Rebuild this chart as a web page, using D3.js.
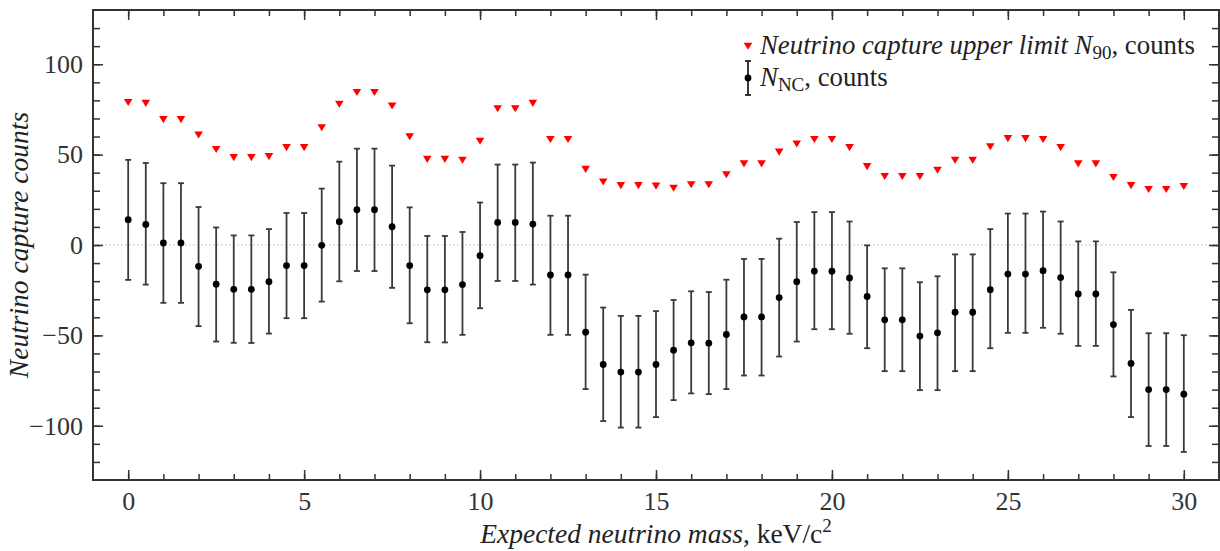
<!DOCTYPE html>
<html>
<head>
<meta charset="utf-8">
<script src="https://cdn.jsdelivr.net/npm/d3@7"></script>
<style>
  body { margin: 0; background: #fff; }
  svg, svg text { font-family: "Liberation Serif", "Times New Roman", serif; }
</style>
</head>
<body>
<div id="chart"></div>
<script>
// expected neutrino mass, keV/c^2
var mass = [0, 0.5, 1, 1.5, 2, 2.5, 3, 3.5, 4, 4.5, 5, 5.5, 6, 6.5, 7, 7.5, 8, 8.5, 9, 9.5,
  10, 10.5, 11, 11.5, 12, 12.5, 13, 13.5, 14, 14.5, 15, 15.5, 16, 16.5, 17, 17.5, 18, 18.5, 19, 19.5,
  20, 20.5, 21, 21.5, 22, 22.5, 23, 23.5, 24, 24.5, 25, 25.5, 26, 26.5, 27, 27.5, 28, 28.5, 29, 29.5, 30];

// neutrino capture upper limit N90
var upperLimit = [79, 78.5, 69.5, 69.5, 61, 53, 48.5, 48.5, 49, 54, 54, 65, 78, 84.5, 84.5, 77, 60, 47.5, 47.5, 47,
  57.5, 75.5, 75.5, 78.5, 58.5, 58.5, 42, 35, 33, 33, 32.7, 31.5, 33.5, 33.5, 39, 45, 45, 51.5, 56, 58.5,
  58.5, 54, 43.5, 38, 38, 38, 41.5, 47, 47, 54.5, 59, 59, 58.5, 54, 45, 45, 37.5, 33, 30.8, 30.8, 32.5];

// N_NC and its error bar ends
var nNC = [14, 11.4, 1.1, 1.1, -11.8, -21.7, -24.5, -24.5, -20.3, -11.4, -11.4, -0.2, 12.9, 19.5, 19.5, 10.1, -11.4, -24.8, -24.8, -21.9,
  -5.9, 12.5, 12.5, 11.6, -16.6, -16.6, -48.2, -66.1, -70.3, -70.3, -66.1, -58.2, -54.1, -54.3, -49.5, -39.8, -39.8, -29.1, -20.3, -14.5,
  -14.5, -18.2, -28.5, -41.4, -41.4, -50.4, -48.6, -37.2, -37.2, -24.7, -16.1, -16.1, -14.2, -18, -27.1, -27.1, -44, -65.5, -80, -80, -82.5];

var nNCHigh = [47.1, 45.4, 34.2, 34.2, 21, 9.7, 5.3, 5.3, 8.8, 17.7, 17.7, 31.2, 46.1, 53.3, 53.3, 43.9, 20.8, 5, 5, 7.2,
  23.5, 44.5, 44.5, 45.6, 16.2, 16.2, -16.4, -34.6, -39.2, -39.2, -36.6, -30.4, -25.6, -26, -19.2, -7.7, -7.7, 3.5, 12.7, 18.2,
  18.2, 13, -0.2, -12.9, -12.9, -20.6, -17.3, -5.2, -5.2, 8.8, 17.4, 17.4, 18.5, 13, 2, 2, -15.1, -35.9, -48.8, -48.8, -49.9];

var nNCLow = [-19.3, -21.9, -32, -32, -44.9, -53.4, -54.1, -54.2, -49, -40.5, -40.5, -31.3, -20.1, -14.4, -14.4, -23.7, -43.3, -53.8, -53.9, -49.7,
  -35, -19.9, -19.9, -21.9, -49.7, -49.7, -79.7, -97.4, -101, -101, -95.2, -85.8, -82.1, -82.5, -79.7, -72.2, -72.2, -61.7, -53.4, -46.6,
  -46.6, -49.1, -57.1, -69.8, -69.8, -80.3, -80.3, -69.8, -69.8, -57.1, -48.6, -48.6, -45.8, -49.1, -55.8, -55.8, -72.7, -95.2, -111.2, -111.2, -114.5];

var xMajorTicks = [0, 5, 10, 15, 20, 25, 30];
var yMajorTicks = [-100, -50, 0, 50, 100];

var width = 1220, height = 551;
var margin = { left: 93, top: 10, right: 1, bottom: 71 };
var plotW = width - margin.left - margin.right;
var plotH = height - margin.top - margin.bottom;
var axisColor = "#333";
var serif = "'Liberation Serif', 'Times New Roman', serif";

var svg = d3.select("#chart").append("svg")
  .attr("width", width)
  .attr("height", height);

var g = svg.append("g")
  .attr("transform", "translate(" + margin.left + "," + margin.top + ")");

var x = d3.scaleLinear().domain([-1, 31]).range([0, plotW]);
var y = d3.scaleLinear().domain([-130, 130]).range([plotH, 0]);

// dotted zero line
g.append("line")
  .attr("x1", 0).attr("x2", plotW)
  .attr("y1", y(0)).attr("y2", y(0))
  .attr("stroke", "#bbb")
  .attr("stroke-width", 1)
  .attr("stroke-dasharray", "1.5,2.5");

// axes: minor ticks first, then major with labels, ticks pointing inward
function styleAxis(sel) {
  sel.attr("font-family", null).attr("font-size", null);
  sel.select(".domain").remove();
  sel.selectAll(".tick line").attr("stroke", axisColor).attr("stroke-width", 1.5);
  sel.selectAll("text").attr("fill", axisColor).style("font-size", "26px").style("font-family", serif);
}

var xMinor = d3.range(0, 31, 1);
var yMinor = d3.range(-120, 130, 10);

g.append("g").attr("transform", "translate(0," + plotH + ")")
  .call(d3.axisBottom(x).tickValues(xMinor).tickSize(-6).tickFormat(""))
  .call(styleAxis);
g.append("g").attr("transform", "translate(0," + plotH + ")")
  .call(d3.axisBottom(x).tickValues(xMajorTicks).tickSize(-10).tickPadding(12).tickFormat(d3.format("d")))
  .call(styleAxis);
g.append("g")
  .call(d3.axisTop(x).tickValues(xMinor).tickSize(-6).tickFormat(""))
  .call(styleAxis);
g.append("g")
  .call(d3.axisTop(x).tickValues(xMajorTicks).tickSize(-10).tickFormat(""))
  .call(styleAxis);

g.append("g")
  .call(d3.axisLeft(y).tickValues(yMinor).tickSize(-7).tickFormat(""))
  .call(styleAxis);
g.append("g")
  .call(d3.axisLeft(y).tickValues(yMajorTicks).tickSize(-10).tickPadding(10)
    .tickFormat(function(d) { return d < 0 ? "\u2212" + Math.abs(d) : d; }))
  .call(styleAxis);
g.append("g").attr("transform", "translate(" + plotW + ",0)")
  .call(d3.axisRight(y).tickValues(yMinor).tickSize(-7).tickFormat(""))
  .call(styleAxis);
g.append("g").attr("transform", "translate(" + plotW + ",0)")
  .call(d3.axisRight(y).tickValues(yMajorTicks).tickSize(-10).tickFormat(""))
  .call(styleAxis);

// frame
g.append("rect")
  .attr("width", plotW).attr("height", plotH)
  .attr("fill", "none")
  .attr("stroke", axisColor)
  .attr("stroke-width", 2);

var idx = d3.range(mass.length);
var capW = 3;

// error bars
var bars = g.append("g").attr("stroke", "#3a3a3a").attr("stroke-width", 1.8);
bars.selectAll(".eb").data(idx).enter().append("line")
  .attr("x1", function(i) { return x(mass[i]); })
  .attr("x2", function(i) { return x(mass[i]); })
  .attr("y1", function(i) { return y(nNCHigh[i]); })
  .attr("y2", function(i) { return y(nNCLow[i]); });
bars.selectAll(".capHi").data(idx).enter().append("line")
  .attr("x1", function(i) { return x(mass[i]) - capW; })
  .attr("x2", function(i) { return x(mass[i]) + capW; })
  .attr("y1", function(i) { return y(nNCHigh[i]); })
  .attr("y2", function(i) { return y(nNCHigh[i]); });
bars.selectAll(".capLo").data(idx).enter().append("line")
  .attr("x1", function(i) { return x(mass[i]) - capW; })
  .attr("x2", function(i) { return x(mass[i]) + capW; })
  .attr("y1", function(i) { return y(nNCLow[i]); })
  .attr("y2", function(i) { return y(nNCLow[i]); });

// N_NC points
g.selectAll(".pt").data(idx).enter().append("circle")
  .attr("cx", function(i) { return x(mass[i]); })
  .attr("cy", function(i) { return y(nNC[i]); })
  .attr("r", 3.4)
  .attr("fill", "#000");

// upper limit triangles (pointing down)
var tri = "M-4.3,-3.3L4.3,-3.3L0,3.8Z";
g.selectAll(".tri").data(idx).enter().append("path")
  .attr("d", tri)
  .attr("transform", function(i) { return "translate(" + x(mass[i]) + "," + y(upperLimit[i]) + ")"; })
  .attr("fill", "#f00");

// legend
var leg = svg.append("g").attr("fill", "#222").style("font-size", "26.8px");
leg.append("path").attr("d", tri).attr("transform", "translate(748,46)").attr("fill", "#f00");
var t1 = leg.append("text").attr("x", 760).attr("y", 54);
t1.append("tspan").attr("font-style", "italic").text("Neutrino capture upper limit N");
t1.append("tspan").style("font-size", "19px").attr("dy", 5).text("90");
t1.append("tspan").attr("dy", -5).text(", counts");

leg.append("line").attr("x1", 748).attr("x2", 748).attr("y1", 61).attr("y2", 95)
  .attr("stroke", "#222").attr("stroke-width", 1.8);
leg.append("line").attr("x1", 745).attr("x2", 751).attr("y1", 61).attr("y2", 61)
  .attr("stroke", "#222").attr("stroke-width", 1.8);
leg.append("line").attr("x1", 745).attr("x2", 751).attr("y1", 95).attr("y2", 95)
  .attr("stroke", "#222").attr("stroke-width", 1.8);
leg.append("circle").attr("cx", 748).attr("cy", 78).attr("r", 3.4).attr("fill", "#000");
var t2 = leg.append("text").attr("x", 760).attr("y", 86);
t2.append("tspan").attr("font-style", "italic").text("N");
t2.append("tspan").style("font-size", "19px").attr("dy", 5).text("NC");
t2.append("tspan").attr("dy", -5).text(", counts");

// axis titles
var xt = svg.append("text")
  .attr("x", margin.left + plotW / 2)
  .attr("y", 543)
  .attr("text-anchor", "middle")
  .style("font-size", "27.5px")
  .attr("fill", "#222");
xt.append("tspan").attr("font-style", "italic").text("Expected neutrino mass");
xt.append("tspan").text(", keV/c");
xt.append("tspan").style("font-size", "19px").attr("dy", -11).text("2");

svg.append("text")
  .attr("transform", "translate(28," + (margin.top + plotH / 2) + ") rotate(-90)")
  .attr("text-anchor", "middle")
  .style("font-size", "27.5px")
  .attr("font-style", "italic")
  .attr("fill", "#222")
  .text("Neutrino capture counts");
</script>
</body>
</html>
